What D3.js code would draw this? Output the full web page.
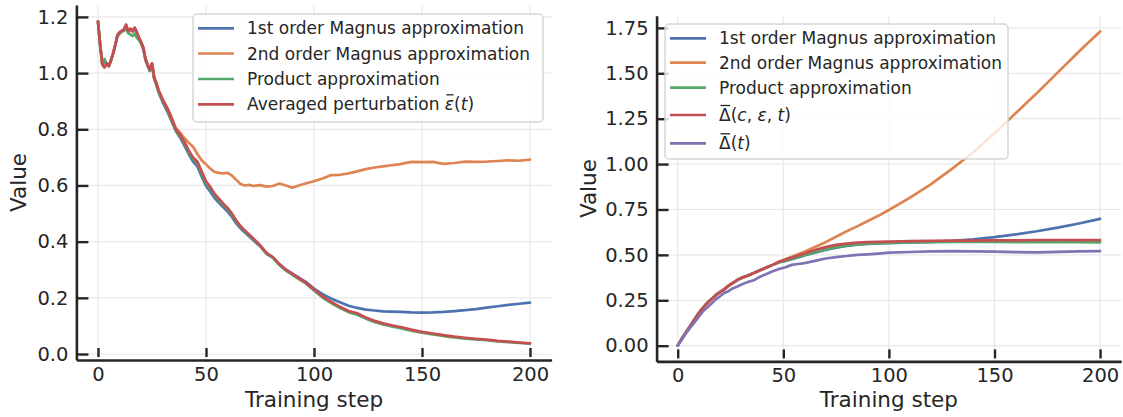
<!DOCTYPE html>
<html>
<head>
<meta charset="utf-8">
<script src="https://cdn.jsdelivr.net/npm/d3@7"></script>
<style>
  body { margin: 0; background: #fff; }
  svg { display: block; font-family: "DejaVu Sans", sans-serif; }
</style>
</head>
<body>
<svg id="chart" width="1123" height="417"></svg>
<script>
var xTicks = [0, 50, 100, 150, 200];
var yTicksLeft = [0, 0.2, 0.4, 0.6, 0.8, 1.0, 1.2];
var yTicksRight = [0, 0.25, 0.5, 0.75, 1.0, 1.25, 1.5, 1.75];

var stepsLeft = [0,1,2,3,4,5,6,7,8,9,10,11,12,13,14,15,16,17,18,19,20,21,22,23,24,25,26,27,28,
  30,32,34,36,38,40,42,44,46,48,50,52,54,56,58,60,62,64,66,68,70,
  72,75,78,81,84,87,90,93,96,100,104,108,112,116,120,124,128,132,136,140,
  145,150,155,160,165,170,175,180,185,190,195,200];

var magnus1Left = [1.183,1.10,1.03,1.045,1.03,1.025,1.045,1.07,1.10,1.135,1.145,1.15,1.155,1.168,1.148,1.155,1.148,1.158,1.142,1.122,1.105,1.085,1.045,1.025,1.008,1.03,0.98,0.958,0.932,
  0.895,0.865,0.83,0.795,0.77,0.742,0.712,0.685,0.668,0.632,0.598,0.578,0.555,0.538,0.522,0.507,0.488,0.465,0.447,0.433,0.418,
  0.404,0.384,0.357,0.343,0.319,0.30,0.286,0.272,0.258,0.233,0.213,0.197,0.184,0.172,0.164,0.158,0.155,0.152,0.151,0.150,
  0.148,0.147,0.148,0.150,0.153,0.156,0.160,0.165,0.170,0.175,0.179,0.183];

var magnus2Left = [1.183,1.10,1.03,1.02,1.035,1.025,1.045,1.07,1.10,1.135,1.145,1.15,1.155,1.172,1.148,1.158,1.150,1.162,1.145,1.125,1.11,1.09,1.05,1.03,1.012,1.035,0.985,0.965,0.94,
  0.905,0.878,0.845,0.805,0.788,0.768,0.752,0.738,0.712,0.69,0.675,0.66,0.648,0.645,0.643,0.645,0.635,0.62,0.605,0.600,0.602,
  0.598,0.601,0.596,0.598,0.607,0.600,0.592,0.600,0.607,0.615,0.625,0.637,0.638,0.643,0.650,0.658,0.664,0.668,0.672,0.676,
  0.684,0.683,0.684,0.677,0.680,0.685,0.684,0.685,0.687,0.689,0.688,0.692];

var productLeft = [1.183,1.10,1.032,1.05,1.03,1.025,1.045,1.07,1.10,1.13,1.14,1.148,1.15,1.16,1.142,1.138,1.132,1.14,1.125,1.118,1.105,1.085,1.05,1.03,1.01,1.03,0.982,0.96,0.935,
  0.90,0.87,0.835,0.795,0.775,0.748,0.72,0.695,0.678,0.643,0.608,0.588,0.565,0.548,0.53,0.515,0.495,0.472,0.452,0.437,0.422,
  0.407,0.385,0.357,0.342,0.317,0.297,0.282,0.267,0.252,0.226,0.201,0.181,0.164,0.149,0.14,0.126,0.114,0.105,0.098,0.092,
  0.083,0.076,0.07,0.064,0.059,0.055,0.052,0.049,0.045,0.042,0.04,0.037];

var averagedLeft = [1.183,1.10,1.03,1.02,1.035,1.025,1.045,1.07,1.10,1.135,1.145,1.15,1.155,1.172,1.148,1.158,1.150,1.162,1.145,1.125,1.11,1.09,1.05,1.03,1.012,1.035,0.985,0.965,0.94,
  0.905,0.875,0.84,0.80,0.78,0.755,0.725,0.70,0.685,0.65,0.615,0.595,0.57,0.553,0.535,0.52,0.50,0.475,0.455,0.44,0.425,
  0.41,0.388,0.36,0.345,0.32,0.30,0.285,0.27,0.255,0.23,0.205,0.185,0.168,0.153,0.145,0.13,0.118,0.109,0.102,0.096,
  0.087,0.079,0.073,0.067,0.062,0.058,0.054,0.051,0.047,0.044,0.041,0.038];

var stepsRight = [0,2,4,6,8,10,12,14,16,18,20,22,24,26,28,30,
  33,36,39,42,45,48,51,54,57,60,65,70,75,80,85,90,95,100,
  110,120,130,140,150,160,170,180,190,200];

var magnus1Right = [0,0.04,0.075,0.11,0.145,0.18,0.21,0.235,0.257,0.278,0.295,0.31,0.33,0.345,0.36,0.372,
  0.385,0.40,0.415,0.43,0.445,0.46,0.466,0.476,0.486,0.497,0.512,0.527,0.54,0.55,0.556,0.56,0.563,0.565,
  0.569,0.572,0.577,0.586,0.598,0.613,0.630,0.650,0.673,0.698];

var magnus2Right = [0,0.04,0.075,0.11,0.145,0.18,0.21,0.235,0.257,0.278,0.295,0.31,0.33,0.345,0.36,0.372,
  0.385,0.40,0.415,0.43,0.445,0.462,0.476,0.49,0.503,0.517,0.543,0.57,0.60,0.63,0.657,0.687,0.715,0.747,
  0.815,0.89,0.975,1.065,1.17,1.28,1.39,1.505,1.62,1.73];

var productRight = [0,0.04,0.075,0.11,0.145,0.18,0.21,0.235,0.257,0.278,0.295,0.31,0.33,0.345,0.36,0.372,
  0.385,0.40,0.415,0.43,0.445,0.46,0.468,0.478,0.488,0.50,0.515,0.53,0.543,0.552,0.558,0.562,0.565,0.567,
  0.569,0.570,0.571,0.571,0.571,0.570,0.570,0.570,0.570,0.569];

var deltaCRight = [0,0.04,0.075,0.11,0.145,0.18,0.21,0.235,0.257,0.278,0.295,0.31,0.33,0.345,0.36,0.372,
  0.385,0.40,0.415,0.43,0.445,0.462,0.474,0.485,0.497,0.508,0.527,0.543,0.555,0.562,0.567,0.570,0.572,0.573,
  0.576,0.577,0.578,0.579,0.58,0.58,0.581,0.582,0.581,0.581];

var deltaRight = [0,0.035,0.07,0.10,0.13,0.16,0.19,0.21,0.232,0.255,0.272,0.29,0.30,0.315,0.325,0.335,
  0.35,0.36,0.38,0.395,0.41,0.422,0.432,0.445,0.45,0.455,0.467,0.48,0.488,0.494,0.50,0.503,0.507,0.512,
  0.516,0.519,0.521,0.519,0.518,0.515,0.514,0.517,0.519,0.521];

var blue = "#4c72b0", orange = "#dd8452", green = "#55a868", red = "#c44e52", purple = "#8172b3";
var ink = "#262626";

var svg = d3.select("#chart");
svg.append("rect").attr("width", 1123).attr("height", 417).attr("fill", "#fff");

function drawPanel(cfg) {
  var x = d3.scaleLinear().domain([-10, 210]).range(cfg.xRange);
  var y = d3.scaleLinear().domain(cfg.yDomain).range(cfg.yRange);
  var g = svg.append("g");

  // grid
  g.append("g")
    .selectAll("line")
    .data(xTicks)
    .enter()
    .append("line")
    .attr("x1", function (d) { return x(d); })
    .attr("x2", function (d) { return x(d); })
    .attr("y1", cfg.yRange[0])
    .attr("y2", cfg.yRange[1])
    .attr("stroke", "#e8e8e8")
    .attr("stroke-width", 1.2);
  g.append("g")
    .selectAll("line")
    .data(cfg.yTicks)
    .enter()
    .append("line")
    .attr("x1", cfg.xRange[0])
    .attr("x2", cfg.xRange[1])
    .attr("y1", function (d) { return y(d); })
    .attr("y2", function (d) { return y(d); })
    .attr("stroke", "#e8e8e8")
    .attr("stroke-width", 1.2);

  var line = d3
    .line()
    .x(function (d) { return x(d[0]); })
    .y(function (d) { return y(d[1]); });

  cfg.series.forEach(function (s) {
    var pts = cfg.steps.map(function (st, i) { return [st, s.values[i]]; });
    g.append("path")
      .datum(pts)
      .attr("d", line)
      .attr("fill", "none")
      .attr("stroke", s.color)
      .attr("stroke-width", 2.7)
      .attr("stroke-linejoin", "round")
      .attr("stroke-linecap", "round");
  });

  var xAxis = g
    .append("g")
    .attr("transform", "translate(0," + cfg.yRange[0] + ")")
    .call(d3.axisBottom(x).tickValues(xTicks).tickSize(-12).tickSizeOuter(0).tickPadding(7));
  xAxis.selectAll(".tick line").attr("y1", -3).attr("y2", -12);

  var yAxis = g
    .append("g")
    .attr("transform", "translate(" + cfg.xRange[0] + ",0)")
    .call(d3.axisLeft(y).tickValues(cfg.yTicks).tickFormat(d3.format(cfg.yFormat)).tickSize(-12).tickSizeOuter(0).tickPadding(8));

  [xAxis, yAxis].forEach(function (a) {
    a.select(".domain").attr("stroke", ink).attr("stroke-width", 2.6);
    a.selectAll(".tick line").attr("stroke", ink).attr("stroke-width", 2.4);
    a.selectAll(".tick text")
      .attr("fill", ink)
      .style("font-size", "19.5px")
      .style("font-family", "'DejaVu Sans', sans-serif");
  });

  g.append("text")
    .attr("x", (cfg.xRange[0] + cfg.xRange[1]) / 2)
    .attr("y", 407)
    .attr("text-anchor", "middle")
    .attr("fill", ink)
    .style("font-size", "21.5px")
    .text("Training step");

  g.append("text")
    .attr("transform", "translate(" + cfg.yLabelX + "," + (cfg.yRange[0] + cfg.yRange[1]) / 2 + ") rotate(-90)")
    .attr("text-anchor", "middle")
    .attr("fill", ink)
    .style("font-size", "21.5px")
    .text("Value");

  // legend
  var lg = cfg.legend;
  g.append("rect")
    .attr("x", lg.x)
    .attr("y", lg.y)
    .attr("width", lg.w)
    .attr("height", lg.h)
    .attr("rx", 4)
    .attr("fill", "#fff")
    .attr("fill-opacity", 0.8)
    .attr("stroke", "#d6d6d6")
    .attr("stroke-width", 1.5);

  cfg.series.forEach(function (s, i) {
    var ry = lg.rows[i];
    g.append("line")
      .attr("x1", lg.x + 5)
      .attr("x2", lg.x + 41)
      .attr("y1", ry)
      .attr("y2", ry)
      .attr("stroke", s.color)
      .attr("stroke-width", 2.7);
    var t = g.append("text")
      .attr("x", lg.x + 54)
      .attr("y", ry)
      .attr("dy", "0.36em")
      .attr("fill", ink)
      .style("font-size", "17px");
    s.label.forEach(function (part) {
      t.append("tspan")
        .style("font-style", part[1] ? "italic" : "normal")
        .text(part[0]);
    });
    // bar accent over one glyph (mathtext \bar)
    if (s.bar !== undefined) {
      var node = t.node();
      var a = node.getStartPositionOfChar(s.bar);
      var b = node.getEndPositionOfChar(s.bar);
      g.append("line")
        .attr("x1", a.x + 1.5)
        .attr("x2", b.x - 0.5)
        .attr("y1", ry - 9.5)
        .attr("y2", ry - 9.5)
        .attr("stroke", ink)
        .attr("stroke-width", 1.3);
    }
  });
}

drawPanel({
  xRange: [76.4, 551.6],
  yDomain: [-0.0213, 1.2424],
  yRange: [360, 5],
  yTicks: yTicksLeft,
  yFormat: ".1f",
  yLabelX: 26,
  steps: stepsLeft,
  series: [
    { values: magnus1Left, color: blue, label: [["1st order Magnus approximation", false]] },
    { values: magnus2Left, color: orange, label: [["2nd order Magnus approximation", false]] },
    { values: productLeft, color: green, label: [["Product approximation", false]] },
    { values: averagedLeft, color: red, bar: 22, label: [["Averaged perturbation ", false], ["\u03b5", true], ["(", false], ["t", true], [")", false]] }
  ],
  legend: { x: 193, y: 14, w: 350, h: 108, rows: [28.3, 53.5, 79, 104.3] }
});

drawPanel({
  xRange: [656.6, 1121.2],
  yDomain: [-0.0865, 1.8165],
  yRange: [361.4, 15.8],
  yTicks: yTicksRight,
  yFormat: ".2f",
  yLabelX: 596,
  steps: stepsRight,
  series: [
    { values: magnus1Right, color: blue, label: [["1st order Magnus approximation", false]] },
    { values: magnus2Right, color: orange, label: [["2nd order Magnus approximation", false]] },
    { values: productRight, color: green, label: [["Product approximation", false]] },
    { values: deltaCRight, color: red, bar: 0, label: [["\u0394(", false], ["c", true], [", ", false], ["\u03b5", true], [", ", false], ["t", true], [")", false]] },
    { values: deltaRight, color: purple, bar: 0, label: [["\u0394(", false], ["t", true], [")", false]] }
  ],
  legend: { x: 665, y: 24, w: 343, h: 135, rows: [38.3, 62.7, 87.7, 115, 143.3] }
});
</script>
</body>
</html>
